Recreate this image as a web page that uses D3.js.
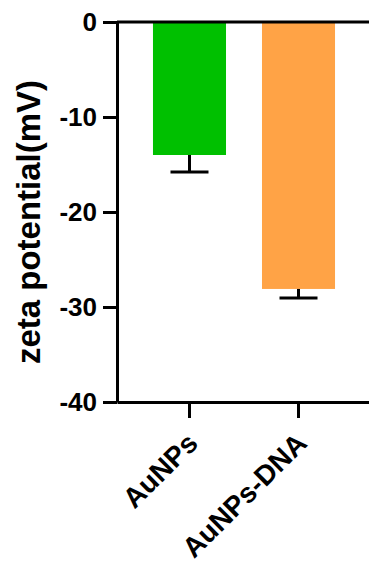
<!DOCTYPE html>
<html>
<head>
<meta charset="utf-8">
<script src="https://cdn.jsdelivr.net/npm/d3@7"></script>
<style>
  html, body { margin: 0; padding: 0; background: #fff; }
  svg { display: block; font-family: 'Liberation Sans', Arial, sans-serif; font-weight: bold; }
</style>
</head>
<body>
<svg id="chart"></svg>
<script>
// data
const categories = ['AuNPs', 'AuNPs-DNA']
const means = [-14.0, -28.1]
const errors = [1.8, 0.95]
const barColors = ['#00c000', '#ffa346']
const yTicks = [0, -10, -20, -30, -40]

const fullWidth = 369
const fullHeight = 565
const margin = { top: 22, left: 117, bottom: 163 }
const plotBottom = fullHeight - margin.bottom

const svg = d3.select('#chart')
    .attr('width', fullWidth)
    .attr('height', fullHeight)

const x = d3.scaleBand()
    .domain(categories)
    .range([margin.left, 371])
    .paddingInner(0.33)
    .paddingOuter(0.33)

const y = d3.scaleLinear()
    .domain([-40, 0])
    .range([plotBottom, margin.top])

const rows = categories.map((c, i) => ({ cat: c, mean: means[i], err: errors[i], color: barColors[i] }))

// bars hang down from zero
svg.append('g').selectAll('rect')
    .data(rows)
    .enter()
    .append('rect')
        .attr('x', d => x(d.cat))
        .attr('width', x.bandwidth())
        .attr('y', y(0))
        .attr('height', d => y(d.mean) - y(0))
        .attr('fill', d => d.color)

// error bars (one side only, like Prism)
const capHalf = 19
const err = svg.append('g')
    .attr('stroke', '#000')
    .attr('stroke-width', 3)
err.selectAll('.stem')
    .data(rows)
    .enter()
    .append('line')
        .attr('class', 'stem')
        .attr('x1', d => x(d.cat) + x.bandwidth() / 2)
        .attr('x2', d => x(d.cat) + x.bandwidth() / 2)
        .attr('y1', d => y(d.mean))
        .attr('y2', d => y(d.mean - d.err))
err.selectAll('.cap')
    .data(rows)
    .enter()
    .append('line')
        .attr('class', 'cap')
        .attr('x1', d => x(d.cat) + x.bandwidth() / 2 - capHalf)
        .attr('x2', d => x(d.cat) + x.bandwidth() / 2 + capHalf)
        .attr('y1', d => y(d.mean - d.err))
        .attr('y2', d => y(d.mean - d.err))

// zero line across the top
svg.append('line')
    .attr('x1', margin.left)
    .attr('x2', 371)
    .attr('y1', y(0))
    .attr('y2', y(0))
    .attr('stroke', '#000')
    .attr('stroke-width', 3)

// y axis (plain hyphen for the minus sign)
const yAxis = svg.append('g')
    .attr('transform', `translate(${margin.left},0)`)
    .call(d3.axisLeft(y).tickValues(yTicks).tickFormat(d => String(d)).tickSize(14).tickSizeOuter(0).tickPadding(6))
yAxis.selectAll('path, line').attr('stroke', '#000').attr('stroke-width', 3)
yAxis.selectAll('text')
    .attr('fill', '#000')
    .style('font-size', '26px')
    .style('font-weight', 'bold')

// x axis at the bottom, labels drawn rotated
const xAxis = svg.append('g')
    .attr('transform', `translate(0,${plotBottom})`)
    .call(d3.axisBottom(x).tickSize(16).tickSizeOuter(0))
xAxis.selectAll('path, line').attr('stroke', '#000').attr('stroke-width', 3)
xAxis.selectAll('.tick text')
    .attr('y', 0)
    .attr('dy', '0.35em')
    .attr('text-anchor', 'end')
    .attr('transform', 'translate(3,36) rotate(-45)')
    .attr('fill', '#000')
    .style('font-size', '28px')
    .style('font-weight', 'bold')

// axis title
svg.append('text')
    .attr('transform', `translate(40,${(margin.top + plotBottom) / 2 + 10}) rotate(-90)`)
    .attr('text-anchor', 'middle')
    .style('font-size', '33px')
    .style('font-weight', 'bold')
    .text('zeta potential(mV)')
</script>
</body>
</html>
